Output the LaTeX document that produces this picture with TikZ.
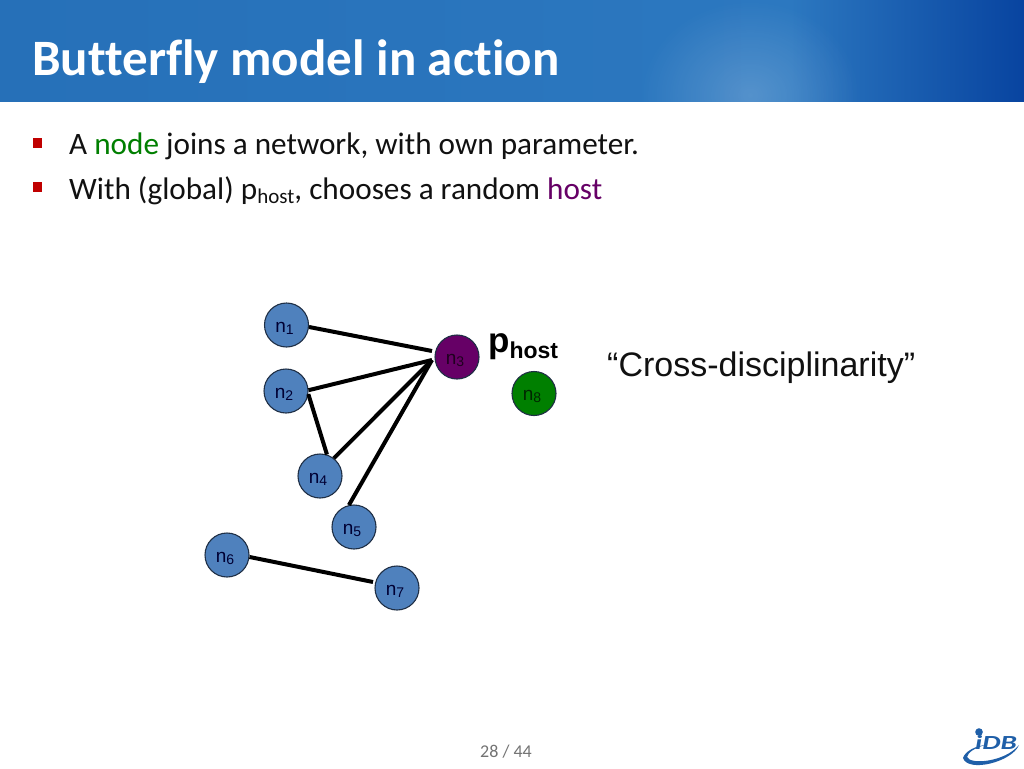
\documentclass[tikz,border=0pt]{standalone}
\usepackage{fontspec}
\setmainfont{Carlito}[Ligatures={NoCommon}]
\newfontfamily\arialf{Liberation Sans}
\usetikzlibrary{fadings}
\definecolor{nodeblue}{HTML}{4F81BD}
\definecolor{nodeedge}{HTML}{1F2F45}
\definecolor{hostpurple}{HTML}{660066}
\definecolor{joingreen}{HTML}{007F00}
\definecolor{bulletred}{HTML}{C00000}
\definecolor{pagetext}{HTML}{111111}
\definecolor{logoblue}{HTML}{1F5FA8}
\tikzfading[name=softspot, inner color=transparent!45, outer color=transparent!100]
\newcommand{\nsub}[1]{\raisebox{-3pt}[10pt][2pt]{n\raisebox{-2pt}{\fontsize{14}{14}\selectfont #1}\hspace{4pt}}}
\tikzset{
  netnode/.style={circle,draw=nodeedge,line width=1.1pt,minimum size=44pt,inner sep=0pt,fill=nodeblue,text=black!80!blue,font=\arialf\fontsize{19}{22}\selectfont},
  hostnode/.style={netnode,fill=hostpurple,text=black!70!hostpurple},
  joinnode/.style={netnode,fill=joingreen,text=black!70!joingreen},
  link/.style={line width=4pt,black},
  bulletline/.style={anchor=base west,inner sep=0pt,text=pagetext,font=\fontsize{31.2}{36}\selectfont},
  bulletmark/.style={fill=bulletred,draw=none,minimum width=9.5pt,minimum height=10pt,inner sep=0pt},
}
\begin{document}
\begin{tikzpicture}[x=1pt,y=-1pt]
\useasboundingbox (0,0) rectangle (1024,768);
\fill[white] (0,0) rectangle (1024,768);
% header band
\shade[left color={rgb,255:red,38;green,112;blue,184},right color={rgb,255:red,44;green,120;blue,192}] (0,0) rectangle (790,101);
\shade[left color={rgb,255:red,44;green,120;blue,192},right color={rgb,255:red,8;green,68;blue,160}] (790,0) rectangle (1024,101);
\begin{scope}
\clip (0,0) rectangle (1024,101);
\fill[white,path fading=softspot,opacity=.35] (750,95) ellipse (110 and 95);
\end{scope}
\node[anchor=base west,inner sep=0pt,text=white,font=\bfseries\fontsize{51}{56}\selectfont] (title) at (32,75.5) {Butterfly model in action};
% bullets
\node[bulletmark] (m1) at (37.5,142.5) {};
\node[bulletmark] (m2) at (37.5,186.5) {};
\node[bulletline] (b1) at (69,154) {A \textcolor{joingreen}{node} joins a network, with own parameter.};
\node[bulletline] (b2) at (69,199) {With (global) p\raisebox{-4pt}{\fontsize{21}{22}\selectfont host}, chooses a random \textcolor{hostpurple}{host}};
% network
\node[netnode] (n1) at (286.5,325) {\nsub{1}};
\node[netnode] (n2) at (286,391) {\nsub{2}};
\node[hostnode] (n3) at (457,357) {\nsub{3}};
\node[netnode] (n4) at (320,476) {\nsub{4}};
\node[netnode] (n5) at (354,527) {\nsub{5}};
\node[netnode] (n6) at (227,555) {\nsub{6}};
\node[netnode] (n7) at (397,588) {\nsub{7}};
\node[joinnode] (n8) at (534,393.5) {\nsub{8}};
\coordinate (hubtop) at (432,351);
\coordinate (hub) at (432,360);
\coordinate (in7) at (373,582);
\draw[link] (n1.-5) -- (hubtop);
\draw[link] (n2.2) -- (hub);
\draw[link] (n2.-8) -- (n4.72);
\draw[link] (n4.52) -- (hub);
\draw[link] (n5.103) -- (hub);
\draw[link] (n6.-5) -- (in7);
\node[anchor=base west,inner sep=0pt,font=\arialf\bfseries\fontsize{35}{40}\selectfont] (phost) at (488,352) {p\raisebox{-6pt}{\fontsize{23}{26}\selectfont host}};
\node[anchor=base west,inner sep=0pt,text=pagetext,font=\arialf\fontsize{34}{38}\selectfont] (cross) at (607,376) {“Cross-disciplinarity”};
% footer
\node[anchor=base,inner sep=0pt,text=black!55,font=\fontsize{18}{20}\selectfont] (page) at (506,757) {28 / 44};
% logo
\fill[logoblue] (963,758) .. controls (965,751) and (976,746) .. (985,745) .. controls (975,748) and (968,752) .. (967,757) .. controls (970,765) and (1005,762) .. (1019,745) .. controls (1012,762) and (968,773) .. (963,758) -- cycle;
\fill[logoblue] (979,732) circle (3.8);
\node[anchor=base,inner sep=0pt,text=logoblue,font=\bfseries\itshape\fontsize{20}{22}\selectfont] (logo) at (996,749.5) {\scalebox{1.45}[1]{iDB}};
\end{tikzpicture}
\end{document}
